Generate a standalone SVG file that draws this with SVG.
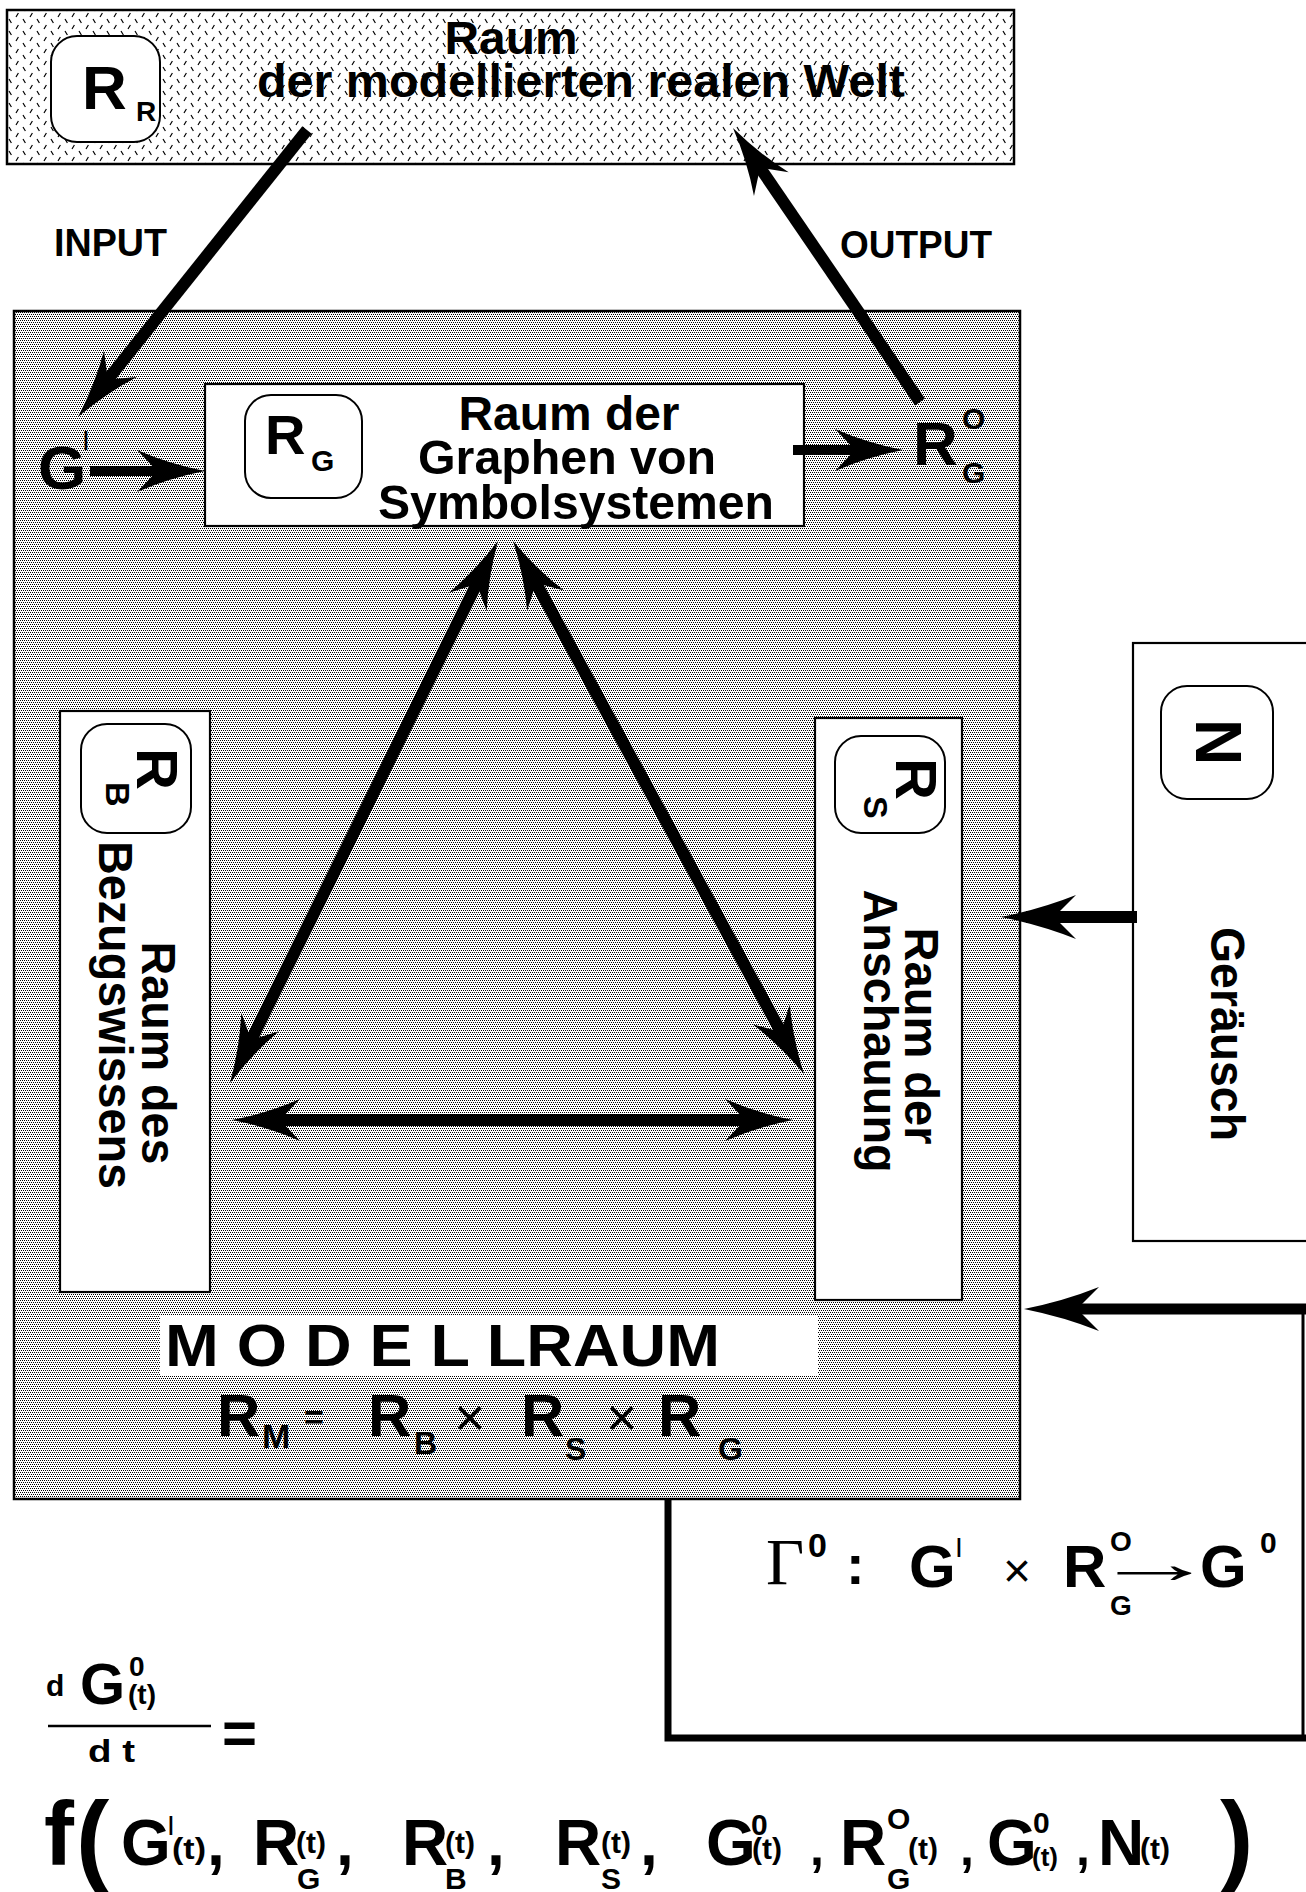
<svg xmlns="http://www.w3.org/2000/svg" width="1306" height="1892" viewBox="0 0 1306 1892">
<defs>
<style>
.t{font-family:"Liberation Sans",Arial,sans-serif;font-weight:bold;fill:#000}
.n{font-weight:normal}
.sf{font-family:"Liberation Serif","Times New Roman",serif;font-weight:normal;fill:#000}
.box{fill:#fff;stroke:#000;stroke-width:2.2}
.lbl{fill:#fff;stroke:#000;stroke-width:2;rx:26px;ry:26px}
.ln{stroke:#000;fill:none}
</style>
<pattern id="hatch" width="14" height="12" patternUnits="userSpaceOnUse">
<rect width="14" height="12" fill="#fff"/>
<path d="M2,5 L4.4,1 M9,7 L11.4,11" stroke="#000" stroke-width="1.2"/>
</pattern>
<pattern id="dots" width="4" height="4" patternUnits="userSpaceOnUse">
<rect width="4" height="4" fill="#fff"/>
<rect x="0" y="0" width="1" height="1" fill="#000"/>
<rect x="2" y="0" width="1" height="1" fill="#000"/>
<rect x="1" y="2" width="1" height="1" fill="#000"/>
<rect x="3" y="2" width="1" height="1" fill="#000"/>
</pattern>
<marker id="mBig" markerUnits="userSpaceOnUse" viewBox="-42 -24 76 48" markerWidth="76" markerHeight="48" refX="0" refY="0" orient="auto-start-reverse">
<path d="M30,0 Q-6,-7 -38,-21 L-18,0 L-38,21 Q-6,7 30,0 Z" fill="#000"/>
</marker>
<marker id="mLong" markerUnits="userSpaceOnUse" viewBox="-55 -25 84 50" markerWidth="84" markerHeight="50" refX="0" refY="0" orient="auto-start-reverse">
<path d="M25,0 Q-15,-8 -50,-22 L-28,0 L-50,22 Q-15,8 25,0 Z" fill="#000"/>
</marker>
</defs>
<rect width="1306" height="1892" fill="#fff"/>

<g id="real-world">
<rect x="7" y="10" width="1007" height="154" fill="url(#hatch)" stroke="#000" stroke-width="2.5"/>
<rect class="lbl" x="51" y="36" width="109" height="106"/>
<text class="t" x="82" y="109" font-size="62">R</text>
<text class="t" x="136" y="121" font-size="28">R</text>
<text class="t" x="511" y="54" font-size="46" text-anchor="middle" textLength="133" lengthAdjust="spacingAndGlyphs">Raum</text>
<text class="t" x="257" y="97" font-size="46" textLength="648" lengthAdjust="spacingAndGlyphs">der modellierten realen Welt</text>
</g>

<g id="labels-io">
<text class="t" x="54" y="256" font-size="38" textLength="113" lengthAdjust="spacingAndGlyphs">INPUT</text>
<text class="t" x="840" y="258" font-size="38" textLength="152" lengthAdjust="spacingAndGlyphs">OUTPUT</text>
</g>

<g id="modellraum">
<rect x="14" y="311" width="1006" height="1188" fill="url(#dots)" stroke="#000" stroke-width="2.5"/>
<rect x="160" y="1316" width="658" height="60" fill="#fff"/>
<text class="t" x="165" y="1366" font-size="60" textLength="555" lengthAdjust="spacingAndGlyphs">M O D E L LRAUM</text>
<text class="t" x="217" y="1436" font-size="60">R</text>
<text class="t" x="262" y="1448" font-size="34">M</text>
<text class="t" x="304" y="1429" font-size="34">=</text>
<text class="t" x="368" y="1436" font-size="60">R</text>
<text class="t" x="414" y="1454" font-size="32">B</text>
<text class="t n" x="454" y="1436" font-size="54">×</text>
<text class="t" x="521" y="1436" font-size="60">R</text>
<text class="t" x="565" y="1460" font-size="32">S</text>
<text class="t n" x="606" y="1436" font-size="54">×</text>
<text class="t" x="658" y="1436" font-size="60">R</text>
<text class="t" x="718" y="1460" font-size="32">G</text>
</g>

<g id="RG">
<rect class="box" x="205" y="384" width="599" height="142"/>
<rect class="lbl" x="245" y="395" width="117" height="103"/>
<text class="t" x="265" y="454" font-size="56">R</text>
<text class="t" x="311" y="471" font-size="30">G</text>
<text class="t" x="569" y="430" font-size="48" text-anchor="middle" textLength="221" lengthAdjust="spacingAndGlyphs">Raum der</text>
<text class="t" x="567" y="474" font-size="48" text-anchor="middle" textLength="298" lengthAdjust="spacingAndGlyphs">Graphen von</text>
<text class="t" x="576" y="519" font-size="48" text-anchor="middle" textLength="396" lengthAdjust="spacingAndGlyphs">Symbolsystemen</text>
</g>

<g id="GI">
<text class="t" x="38" y="489" font-size="62">G</text>
<text class="t n" x="82" y="450" font-size="28">I</text>
</g>

<g id="RGO">
<text class="t" x="913" y="465" font-size="62">R</text>
<text class="t" x="962" y="429" font-size="30">O</text>
<text class="t" x="962" y="483" font-size="30">G</text>
</g>

<g id="RB">
<rect class="box" x="60" y="711" width="150" height="581"/>
<rect class="lbl" x="81" y="724" width="110" height="109"/>
<text class="t" font-size="58" transform="translate(137,748) rotate(90)">R</text>
<text class="t" font-size="34" transform="translate(106,782) rotate(90)">B</text>
<text class="t" font-size="48" text-anchor="middle" textLength="223" lengthAdjust="spacingAndGlyphs" transform="translate(142,1053) rotate(90)">Raum des</text>
<text class="t" font-size="48" text-anchor="middle" textLength="348" lengthAdjust="spacingAndGlyphs" transform="translate(99,1015) rotate(90)">Bezugswissens</text>
</g>

<g id="RS">
<rect class="box" x="815" y="718" width="147" height="582"/>
<rect class="lbl" x="835" y="736" width="110" height="97"/>
<text class="t" font-size="58" transform="translate(896,758) rotate(90)">R</text>
<text class="t" font-size="34" transform="translate(864,796) rotate(90)">S</text>
<text class="t" font-size="48" text-anchor="middle" textLength="217" lengthAdjust="spacingAndGlyphs" transform="translate(905,1036) rotate(90)">Raum der</text>
<text class="t" font-size="48" text-anchor="middle" textLength="283" lengthAdjust="spacingAndGlyphs" transform="translate(864,1031) rotate(90)">Anschauung</text>
</g>

<g id="N">
<rect class="box" x="1133" y="643" width="190" height="598"/>
<rect class="lbl" x="1161" y="686" width="112" height="113"/>
<text class="t" font-size="64" text-anchor="middle" transform="translate(1196,742) rotate(90)">N</text>
<text class="t" font-size="48" text-anchor="middle" textLength="214" lengthAdjust="spacingAndGlyphs" transform="translate(1211,1034) rotate(90)">Geräusch</text>
</g>

<g id="connectors">
<line class="ln" x1="307" y1="130" x2="96.7" y2="393.5" stroke-width="12" marker-end="url(#mBig)"/>
<line class="ln" x1="920" y1="402" x2="749.9" y2="152.8" stroke-width="12" marker-end="url(#mBig)"/>
<line class="ln" x1="90" y1="471" x2="175" y2="471" stroke-width="10" marker-end="url(#mBig)"/>
<line class="ln" x1="793" y1="450" x2="873" y2="450" stroke-width="10" marker-end="url(#mBig)"/>
<line class="ln" x1="484.7" y1="567.9" x2="243.3" y2="1056.1" stroke-width="12" marker-start="url(#mBig)" marker-end="url(#mBig)"/>
<line class="ln" x1="527.4" y1="567.3" x2="789.6" y2="1047.7" stroke-width="12" marker-start="url(#mBig)" marker-end="url(#mBig)"/>
<line class="ln" x1="262" y1="1120" x2="763" y2="1120" stroke-width="12" marker-start="url(#mBig)" marker-end="url(#mBig)"/>
<line class="ln" x1="1137" y1="917" x2="1026" y2="917" stroke-width="12" marker-end="url(#mLong)"/>
<line class="ln" x1="1306" y1="1309" x2="1049" y2="1309" stroke-width="11" marker-end="url(#mLong)"/>
<line class="ln" x1="1303" y1="1305" x2="1303" y2="1741" stroke-width="3"/>
<polyline class="ln" points="668,1499 668,1738 1306,1738" stroke-width="7"/>
</g>

<g id="gamma-formula">
<text class="sf" x="766" y="1584" font-size="66">Γ</text>
<text class="t" x="808" y="1557" font-size="34">0</text>
<text class="t" x="846" y="1584" font-size="56">:</text>
<text class="t" x="909" y="1587" font-size="60">G</text>
<text class="t n" x="955" y="1557" font-size="28">I</text>
<text class="t n" x="1003" y="1587" font-size="48">×</text>
<text class="t" x="1063" y="1587" font-size="60">R</text>
<text class="t" x="1110" y="1551" font-size="28">O</text>
<text class="t" x="1110" y="1615" font-size="28">G</text>
<text class="t n" font-size="58" transform="translate(1092,1583) scale(2.15,1)">→</text>
<text class="t" x="1200" y="1587" font-size="60">G</text>
<text class="t" x="1260" y="1553" font-size="30">0</text>
</g>

<g id="derivative">
<text class="t" x="46" y="1696" font-size="30">d</text>
<text class="t" x="80" y="1704" font-size="58">G</text>
<text class="t" x="129" y="1676" font-size="28">0</text>
<text class="t" x="128" y="1704" font-size="28">(t)</text>
<line class="ln" x1="48" y1="1726" x2="211" y2="1726" stroke-width="2.5"/>
<text class="t" x="88" y="1762" font-size="32" textLength="47" lengthAdjust="spacingAndGlyphs">d t</text>
<text class="t" x="222" y="1753" font-size="60">=</text>
</g>

<g id="function">
<text class="t" x="44" y="1865" font-size="90">f</text>
<text class="t" x="76" y="1872" font-size="100">(</text>
<text class="t" x="121" y="1865" font-size="64">G</text>
<text class="t n" x="167" y="1835" font-size="28">I</text>
<text class="t" x="172" y="1859" font-size="30" textLength="34" lengthAdjust="spacingAndGlyphs">(t)</text>
<text class="t" x="207" y="1865" font-size="64">,</text>
<text class="t" x="253" y="1865" font-size="64">R</text>
<text class="t" x="297" y="1889" font-size="30">G</text>
<text class="t" x="296" y="1853" font-size="30">(t)</text>
<text class="t" x="336" y="1865" font-size="64">,</text>
<text class="t" x="402" y="1865" font-size="64">R</text>
<text class="t" x="445" y="1889" font-size="30">B</text>
<text class="t" x="445" y="1853" font-size="30">(t)</text>
<text class="t" x="487" y="1865" font-size="64">,</text>
<text class="t" x="555" y="1865" font-size="64">R</text>
<text class="t" x="601" y="1889" font-size="30">S</text>
<text class="t" x="601" y="1853" font-size="30">(t)</text>
<text class="t" x="640" y="1865" font-size="64">,</text>
<text class="t" x="706" y="1865" font-size="64">G</text>
<text class="t" x="751" y="1835" font-size="30">0</text>
<text class="t" x="752" y="1859" font-size="30">(t)</text>
<text class="t" x="810" y="1865" font-size="50">,</text>
<text class="t" x="840" y="1865" font-size="64">R</text>
<text class="t" x="887" y="1829" font-size="30">O</text>
<text class="t" x="887" y="1889" font-size="30">G</text>
<text class="t" x="908" y="1859" font-size="30">(t)</text>
<text class="t" x="960" y="1865" font-size="50">,</text>
<text class="t" x="987" y="1865" font-size="64">G</text>
<text class="t" x="1033" y="1833" font-size="30">0</text>
<text class="t" x="1032" y="1866" font-size="26">(t)</text>
<text class="t" x="1076" y="1865" font-size="50">,</text>
<text class="t" x="1098" y="1865" font-size="64">N</text>
<text class="t" x="1140" y="1859" font-size="30">(t)</text>
<text class="t" x="1220" y="1872" font-size="100">)</text>
</g>
</svg>
